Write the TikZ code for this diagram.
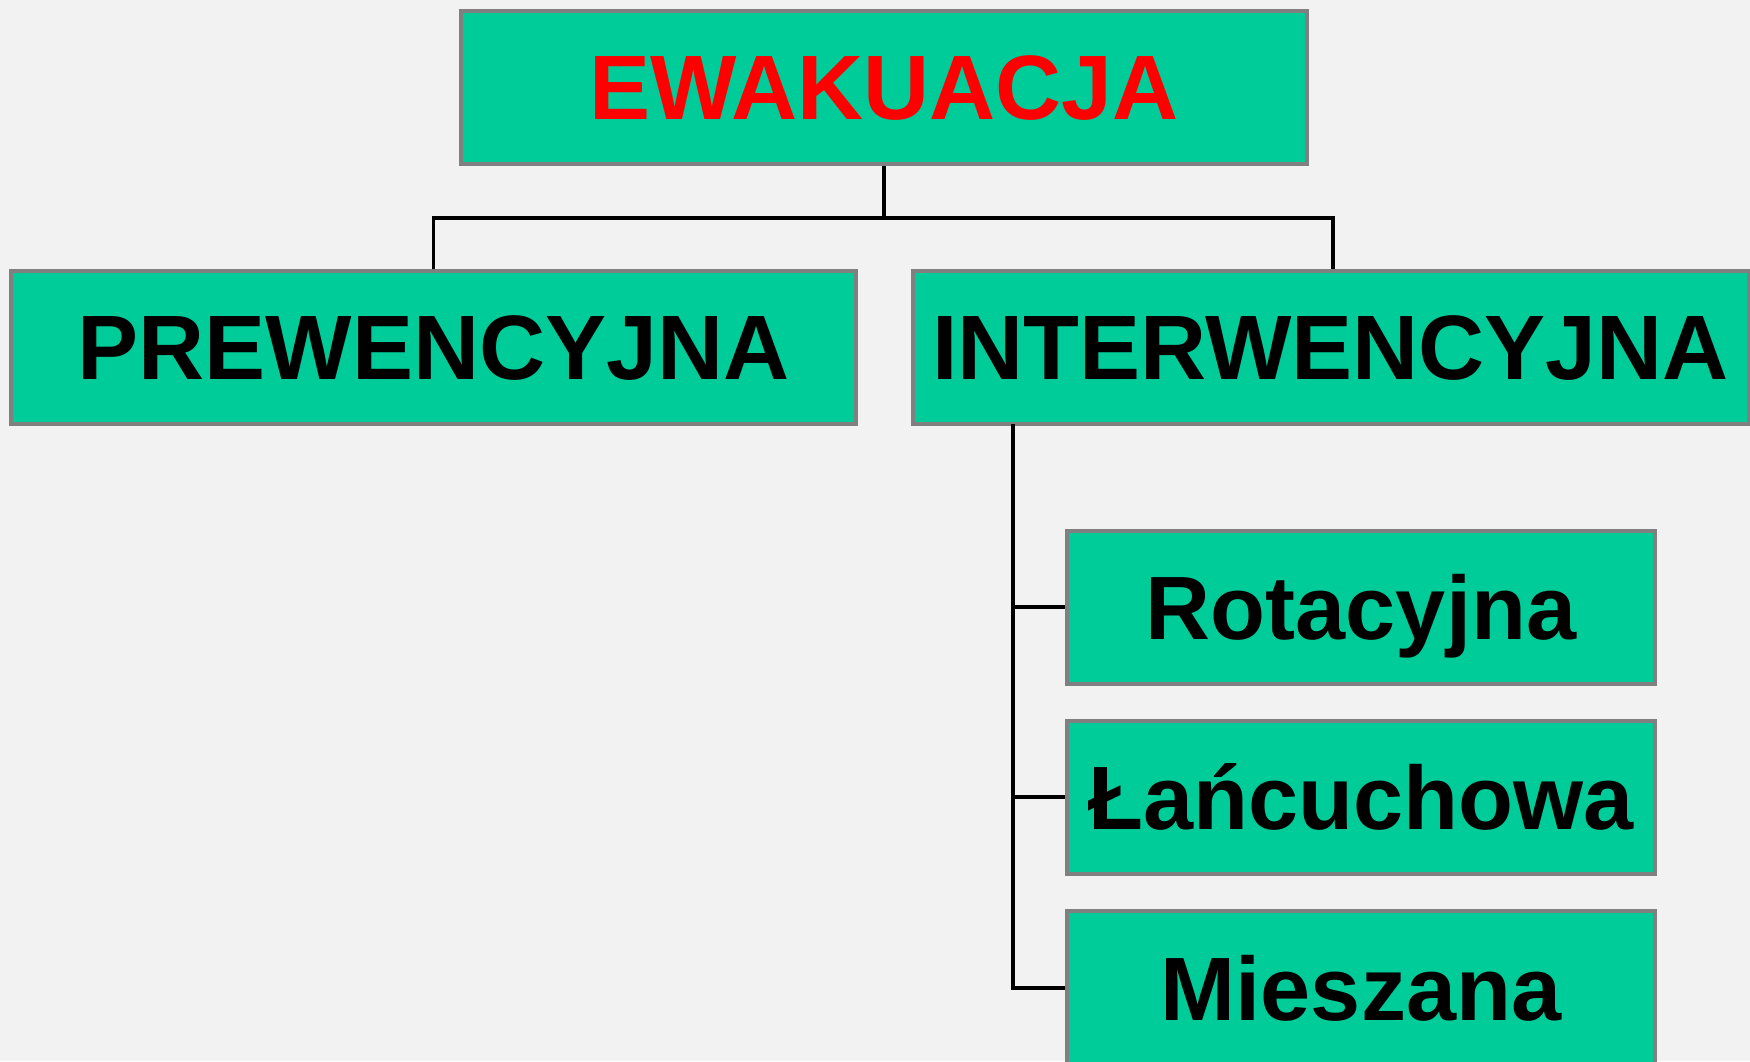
\documentclass[tikz,border=0pt]{standalone}
\usepackage{fontspec}
\setmainfont{Liberation Sans}
\definecolor{bg}{HTML}{F2F2F2}
\definecolor{boxgreen}{HTML}{00CC99}
\definecolor{boxborder}{HTML}{808080}
\begin{document}
\begin{tikzpicture}[x=1pt,y=-1pt,
  box/.style={draw=boxborder, line width=4pt, fill=boxgreen, inner sep=0pt,
    text height=64pt, text depth=0pt, font=\fontsize{90}{100}\selectfont\bfseries},
  caps/.style={font=\fontsize{91.5}{100}\selectfont\bfseries},
  conn/.style={draw=black, line width=3.5pt}]
\fill[bg] (0,0) rectangle (1750,1061);
\useasboundingbox (0,0) rectangle (1750,1061);
\node[box, caps, text=red, minimum width=846pt, minimum height=153pt] (top) at (884,87.5) {EWAKUACJA};
\node[box, caps, minimum width=845pt, minimum height=153pt] (prew) at (433.5,347) {PREWENCYJNA};
\node[box, caps, minimum width=836pt, minimum height=153pt] (inter) at (1330.5,347) {INTERWENCYJNA};
\node[box, minimum width=588pt, minimum height=153pt] (rot) at (1361,607) {Rotacyjna};
\node[box, minimum width=588pt, minimum height=153pt] (lan) at (1361,797) {Łańcuchowa};
\node[box, minimum width=588pt, minimum height=154pt] (mie) at (1361,988) {Mieszana};
\coordinate (j) at (884,218);
\coordinate (t0) at (1013,424);
\draw[conn] (top.south) -- (j);
\draw[conn] (j) -| (prew.north);
\draw[conn] (j) -| ([xshift=2.5pt]inter.north);
\draw[conn] (t0) |- (mie.west);
\draw[conn] (t0 |- rot.west) -- (rot.west);
\draw[conn] (t0 |- lan.west) -- (lan.west);
\end{tikzpicture}
\end{document}
